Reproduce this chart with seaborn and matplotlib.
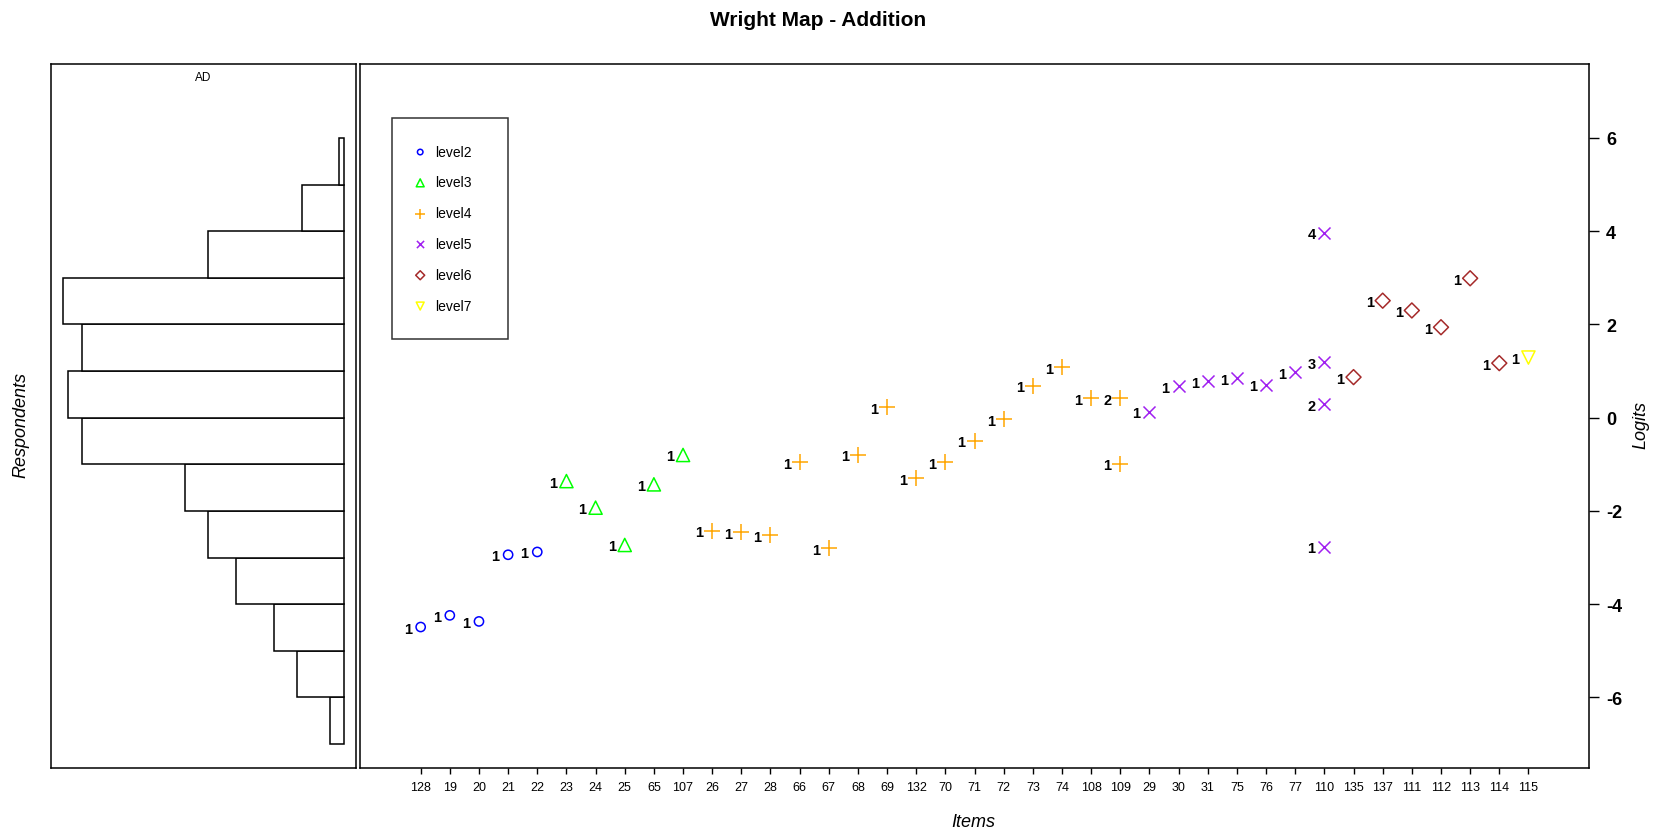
import numpy as np
import pandas as pd
import matplotlib
matplotlib.use('Agg')
import matplotlib.pyplot as plt
import seaborn as sns

# items in the order they appear on the x axis, with their level
items = ['128', '19', '20', '21', '22', '23', '24', '25', '65', '107',
         '26', '27', '28', '66', '67', '68', '69', '132', '70', '71',
         '72', '73', '74', '108', '109', '29', '30', '31', '75', '76',
         '77', '110', '135', '137', '111', '112', '113', '114', '115']
item_levels = ['level2'] * 5 + ['level3'] * 5 + ['level4'] * 15 + \
              ['level5'] * 7 + ['level6'] * 6 + ['level7']

# thresholds: item, step label, logit
thr_item = ['128', '19', '20', '21', '22', '23', '24', '25', '65', '107',
            '26', '27', '28', '66', '67', '68', '69', '132', '70', '71',
            '72', '73', '74', '108', '109', '109', '29', '30', '31', '75',
            '76', '77', '110', '110', '110', '110', '135', '137', '111', '112',
            '113', '114', '115']
thr_step = [1, 1, 1, 1, 1, 1, 1, 1, 1, 1,
            1, 1, 1, 1, 1, 1, 1, 1, 1, 1,
            1, 1, 1, 1, 1, 2, 1, 1, 1, 1,
            1, 1, 1, 2, 3, 4, 1, 1, 1, 1,
            1, 1, 1]
thr_logit = [-4.49, -4.24, -4.37, -2.94, -2.88, -1.36, -1.93, -2.73, -1.43, -0.80,
             -2.43, -2.46, -2.52, -0.96, -2.80, -0.79, 0.22, -1.30, -0.96, -0.50,
             -0.03, 0.69, 1.08, 0.42, -0.99, 0.42, 0.13, 0.67, 0.78, 0.85,
             0.71, 0.97, -2.77, 0.29, 1.19, 3.97, 0.87, 2.51, 2.30, 1.94,
             2.99, 1.17, 1.29]

# respondent histogram (logit bins of width 1)
bin_edges = [-7, -6, -5, -4, -3, -2, -1, 0, 1, 2, 3, 4, 5, 6]
resp_counts = [3, 10, 15, 23, 29, 34, 56, 59, 56, 60, 29, 9, 1]

levels = ['level2', 'level3', 'level4', 'level5', 'level6', 'level7']
level_colors = ['#0000FF', '#00FF00', '#FFA500', '#A020F0', '#A52A2A', '#FFFF00']
level_markers = ['o', '^', '+', 'x', 'D', 'v']
level_sizes = [44, 90, 125, 75, 58, 90]

sns.set_style('white')
plt.rcParams['font.family'] = ['Liberation Sans', 'DejaVu Sans']
plt.rcParams['text.color'] = 'black'
plt.rcParams['axes.labelcolor'] = 'black'
plt.rcParams['xtick.color'] = 'black'
plt.rcParams['ytick.color'] = 'black'

level_of = dict(zip(items, item_levels))
df = pd.DataFrame({'item': thr_item, 'step': thr_step, 'logit': thr_logit})
df['pos'] = [items.index(i) + 1 for i in df['item']]
df['level'] = [level_of[i] for i in df['item']]

fig = plt.figure(figsize=(16.62, 8.37), dpi=100)
ax_h = fig.add_axes([0.03087, 0.0809, 0.18315, 0.8411])
ax = fig.add_axes([0.2168, 0.0809, 0.7395, 0.8411])

ylim = (-7.52, 7.58)

# left panel: respondents
centers = [(bin_edges[k] + bin_edges[k + 1]) / 2 for k in range(len(resp_counts))]
sns.histplot(y=centers, weights=resp_counts, bins=bin_edges, ax=ax_h,
             color='white', edgecolor='black', linewidth=1.1, alpha=1)
ax_h.set_xlim(62.5, -2.5)
ax_h.set_ylim(*ylim)
ax_h.set_xticks([])
ax_h.set_yticks([])
ax_h.set_xlabel('')
ax_h.set_ylabel('')
ax_h.text(0.5, 0.982, 'AD', transform=ax_h.transAxes, ha='center', va='center',
          fontsize=8.5)

# right panel: item thresholds
for lev, col, mk, sz in zip(levels, level_colors, level_markers, level_sizes):
    sub = df[df['level'] == lev]
    if mk in ('+', 'x'):
        sns.scatterplot(data=sub, x='pos', y='logit', ax=ax, marker=mk, color=col,
                        s=sz, linewidth=1.1, label=lev)
    else:
        sns.scatterplot(data=sub, x='pos', y='logit', ax=ax, marker=mk, color=col,
                        facecolor='none', edgecolor=col, s=sz, linewidth=1.1,
                        label=lev)

for _, r in df.iterrows():
    ax.annotate(str(r['step']), (r['pos'], r['logit']), xytext=(-13, 0),
                textcoords='offset pixels', ha='center', va='center_baseline',
                fontsize=10.5, fontweight='bold', color='black')

ax.set_xlim(-1.07, 41.09)
ax.set_ylim(*ylim)
ax.set_xticks(range(1, len(items) + 1))
ax.set_xticklabels(items, fontsize=9)
ax.set_yticks([-6, -4, -2, 0, 2, 4, 6])
ax.set_yticklabels(['-6', '-4', '-2', '0', '2', '4', '6'], fontsize=13,
                   fontweight='bold')
ax.yaxis.tick_right()
ax.tick_params(axis='x', direction='out', length=4, width=1, pad=5, bottom=True)
ax.tick_params(axis='y', direction='out', length=7, width=1, pad=5, right=True,
               left=False)
ax.set_xlabel('')
ax.set_ylabel('')

for a in (ax, ax_h):
    for sp in a.spines.values():
        sp.set_visible(True)
        sp.set_color('black')
        sp.set_linewidth(1.1)

leg = ax.legend(loc='upper left', bbox_to_anchor=(0.02555, 0.5, 0.0944, 0.4233),
                mode='expand', borderaxespad=0, fontsize=10, markerscale=0.6,
                borderpad=1.9, labelspacing=1.21, handlelength=0.3,
                handletextpad=0.94, frameon=True, fancybox=False)
leg.get_frame().set_edgecolor('black')
leg.get_frame().set_linewidth(1.1)

fig.text(818.5 / 1662, 1 - 20 / 837, 'Wright Map - Addition', ha='center',
         va='center', fontsize=15, fontweight='bold')
fig.text(973 / 1662, 1 - 822.6 / 837, 'Items', ha='center', va='center',
         fontsize=13, fontstyle='italic')
fig.text(21 / 1662, 1 - 425 / 837, 'Respondents', ha='center', va='center',
         fontsize=13, fontstyle='italic', rotation=90)
fig.text(1641 / 1662, 1 - 425 / 837, 'Logits', ha='center', va='center',
         fontsize=13, fontstyle='italic', rotation=90)

fig.savefig('out.png', dpi=100)
